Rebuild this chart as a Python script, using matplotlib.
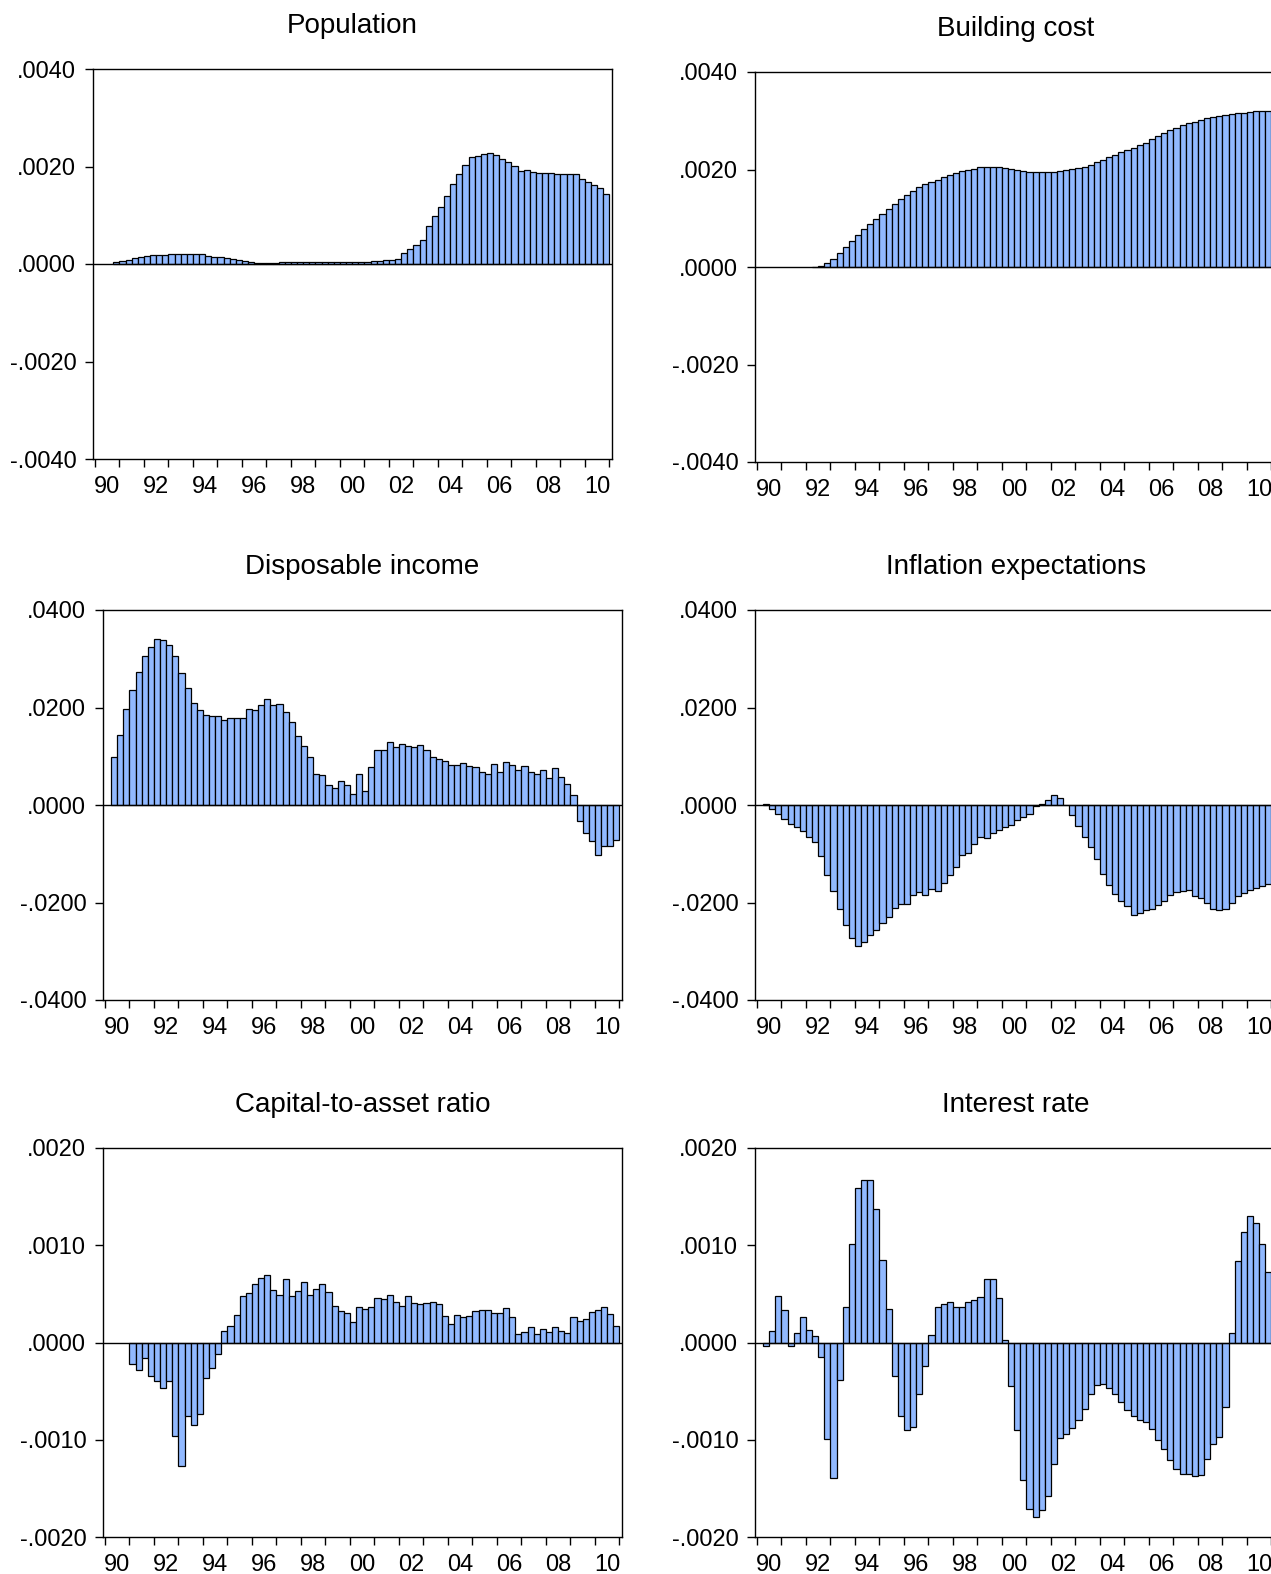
import numpy as np
import matplotlib.pyplot as plt
from matplotlib.ticker import FuncFormatter

plt.rcParams['font.family'] = ['Liberation Sans', 'DejaVu Sans']

# quarterly data, first observation given as offset (in quarters) from 1990Q1
population_start = 3   # 1990Q4
population = [0.000041, 0.000068, 0.000089, 0.000123, 0.000150, 0.000164, 0.000177, 0.000184,
              0.000184, 0.000198, 0.000198, 0.000198, 0.000198, 0.000198, 0.000198, 0.000164,
              0.000150, 0.000137, 0.000116, 0.000096, 0.000075, 0.000055, 0.000034, 0.000027,
              0.000020, 0.000020, 0.000027, 0.000034, 0.000041, 0.000048, 0.000048, 0.000048,
              0.000048, 0.000048, 0.000048, 0.000041, 0.000041, 0.000034, 0.000034, 0.000048,
              0.000048, 0.000048, 0.000055, 0.000068, 0.000075, 0.000082, 0.000096, 0.000225,
              0.000307, 0.000382, 0.000491, 0.000778, 0.000976, 0.001167, 0.001386, 0.001645,
              0.001843, 0.002034, 0.002191, 0.002212, 0.002253, 0.002273, 0.002246, 0.002164,
              0.002096, 0.002014, 0.001911, 0.001918, 0.001884, 0.001864, 0.001864, 0.001857,
              0.001843, 0.001843, 0.001843, 0.001843, 0.001734, 0.001679, 0.001625, 0.001550,
              0.001427]

building_start = 9   # 1992Q2
building = [0.00001, 0.00003, 0.00008, 0.00016, 0.00028, 0.00042, 0.00054, 0.00066, 0.00077,
            0.00088, 0.00099, 0.00108, 0.00119, 0.00129, 0.00139, 0.00148, 0.00156, 0.00164,
            0.00170, 0.00175, 0.00179, 0.00184, 0.00188, 0.00192, 0.00196, 0.00199, 0.00202,
            0.00205, 0.00206, 0.00206, 0.00206, 0.00204, 0.00201, 0.00199, 0.00196, 0.00195,
            0.00194, 0.00194, 0.00194, 0.00195, 0.00197, 0.00199, 0.00201, 0.00203, 0.00206,
            0.00210, 0.00215, 0.00220, 0.00225, 0.00230, 0.00236, 0.00240, 0.00245, 0.00250,
            0.00255, 0.00262, 0.00268, 0.00275, 0.00281, 0.00286, 0.00291, 0.00295, 0.00298,
            0.00301, 0.00305, 0.00308, 0.00310, 0.00312, 0.00314, 0.00315, 0.00316, 0.00318,
            0.00320, 0.00320, 0.00319]

income_start = 1   # 1990Q2
income = [0.0099, 0.0143, 0.0197, 0.0235, 0.0273, 0.0305, 0.0325, 0.0340, 0.0339, 0.0329,
          0.0305, 0.0270, 0.0241, 0.0210, 0.0194, 0.0185, 0.0182, 0.0183, 0.0175, 0.0179,
          0.0179, 0.0179, 0.0197, 0.0195, 0.0205, 0.0218, 0.0206, 0.0207, 0.0191, 0.0171,
          0.0142, 0.0121, 0.0099, 0.0064, 0.0062, 0.0042, 0.0035, 0.0049, 0.0041, 0.0023,
          0.0064, 0.0029, 0.0078, 0.0112, 0.0112, 0.0129, 0.0120, 0.0125, 0.0121, 0.0118,
          0.0123, 0.0112, 0.0099, 0.0095, 0.0091, 0.0083, 0.0083, 0.0087, 0.0079, 0.0077,
          0.0068, 0.0063, 0.0084, 0.0068, 0.0089, 0.0083, 0.0072, 0.0081, 0.0068, 0.0064,
          0.0071, 0.0055, 0.0075, 0.0058, 0.0043, 0.0021, -0.0033, -0.0058, -0.0074, -0.0103,
          -0.0085, -0.0085, -0.0072]

inflation_start = 1   # 1990Q2
inflation = [0.0003, -0.0008, -0.0018, -0.0029, -0.0039, -0.0046, -0.0054, -0.0065, -0.0075,
             -0.0105, -0.0143, -0.0176, -0.0214, -0.0247, -0.0273, -0.0290, -0.0281, -0.0266,
             -0.0256, -0.0242, -0.0229, -0.0212, -0.0204, -0.0203, -0.0185, -0.0179, -0.0184,
             -0.0173, -0.0176, -0.0160, -0.0143, -0.0128, -0.0103, -0.0098, -0.0079, -0.0066,
             -0.0068, -0.0057, -0.0051, -0.0045, -0.0040, -0.0031, -0.0024, -0.0018, -0.0002,
             0.0003, 0.0010, 0.0020, 0.0015, -0.0001, -0.0020, -0.0044, -0.0066, -0.0087,
             -0.0111, -0.0142, -0.0165, -0.0182, -0.0197, -0.0208, -0.0226, -0.0221, -0.0216,
             -0.0214, -0.0205, -0.0196, -0.0184, -0.0178, -0.0176, -0.0174, -0.0186, -0.0191,
             -0.0202, -0.0214, -0.0216, -0.0213, -0.0201, -0.0187, -0.0181, -0.0174, -0.0170,
             -0.0166, -0.0163]

capital_start = 4   # 1991Q1
capital = [-0.00022, -0.00028, -0.00016, -0.00034, -0.00040, -0.00047, -0.00040, -0.00096,
           -0.00127, -0.00076, -0.00085, -0.00074, -0.00036, -0.00026, -0.00012, 0.00012,
           0.00017, 0.00028, 0.00048, 0.00051, 0.00060, 0.00066, 0.00069, 0.00054, 0.00049,
           0.00065, 0.00048, 0.00053, 0.00062, 0.00049, 0.00055, 0.00060, 0.00052, 0.00038,
           0.00032, 0.00030, 0.00021, 0.00036, 0.00034, 0.00037, 0.00046, 0.00045, 0.00049,
           0.00042, 0.00038, 0.00048, 0.00041, 0.00040, 0.00041, 0.00042, 0.00040, 0.00027,
           0.00019, 0.00028, 0.00026, 0.00027, 0.00032, 0.00033, 0.00033, 0.00030, 0.00030,
           0.00035, 0.00026, 0.00009, 0.00011, 0.00016, 0.00009, 0.00014, 0.00011, 0.00016,
           0.00012, 0.00010, 0.00026, 0.00022, 0.00024, 0.00031, 0.00033, 0.00037, 0.00029,
           0.00017]

interest_start = 1   # 1990Q2
interest = [-0.00004, 0.00012, 0.00048, 0.00033, -0.00004, 0.00010, 0.00026, 0.00013, 0.00007,
            -0.00015, -0.00099, -0.00139, -0.00039, 0.00036, 0.00101, 0.00159, 0.00167, 0.00167,
            0.00137, 0.00085, 0.00034, -0.00034, -0.00076, -0.00090, -0.00087, -0.00053,
            -0.00024, 0.00008, 0.00036, 0.00040, 0.00042, 0.00037, 0.00036, 0.00042, 0.00044,
            0.00047, 0.00065, 0.00065, 0.00046, 0.00003, -0.00045, -0.00090, -0.00141, -0.00171,
            -0.00179, -0.00172, -0.00158, -0.00125, -0.00098, -0.00094, -0.00088, -0.00080,
            -0.00068, -0.00053, -0.00044, -0.00043, -0.00047, -0.00053, -0.00061, -0.00069,
            -0.00076, -0.00080, -0.00082, -0.00089, -0.00100, -0.00110, -0.00121, -0.00130,
            -0.00135, -0.00135, -0.00137, -0.00136, -0.00120, -0.00104, -0.00097, -0.00066,
            0.00010, 0.00084, 0.00114, 0.00130, 0.00123, 0.00101, 0.00072]

titles = ["Population", "Building cost", "Disposable income",
          "Inflation expectations", "Capital-to-asset ratio", "Interest rate"]
series = [(population_start, population), (building_start, building),
          (income_start, income), (inflation_start, inflation),
          (capital_start, capital), (interest_start, interest)]
limits = [0.004, 0.004, 0.04, 0.04, 0.002, 0.002]
steps = [0.002, 0.002, 0.02, 0.02, 0.001, 0.001]

year_labels = ["90", "92", "94", "96", "98", "00", "02", "04", "06", "08", "10"]

W, H = 1271, 1574
# axes boxes in pixels: left, top, width, bottom
boxes = [(93, 69, 519, 459), (755, 72, 522, 462),
         (103, 610, 519, 1000), (755, 610, 522, 1000),
         (103, 1148, 519, 1537), (755, 1148, 522, 1537)]

BAR_COLOR = '#91B9FF'
px_per_year = 24.5


def fmt(v, pos):
    return f"{v:.4f}".replace("0.", ".", 1)


fig = plt.figure(figsize=(W / 100, H / 100), dpi=100)

for k in range(6):
    left, top, width, bottom = boxes[k]
    ax = fig.add_axes([left / W, 1 - bottom / H, width / W, (bottom - top) / H])
    start, vals = series[k]
    x = 1990 + (start + np.arange(len(vals))) / 4 + 0.125
    ax.bar(x, vals, width=0.25, color=BAR_COLOR, edgecolor='black', linewidth=0.9, zorder=2)
    ax.axhline(0, color='black', linewidth=1.0, zorder=3)

    x0 = 1989.92
    ax.set_xlim(x0, x0 + width / px_per_year)
    lim = limits[k]
    ax.set_ylim(-lim, lim)
    ax.set_yticks(np.arange(-lim, lim + steps[k] / 2, steps[k]))
    ax.yaxis.set_major_formatter(FuncFormatter(fmt))

    ax.set_xticks(np.arange(1990, 2012))
    ax.set_xticklabels([])
    ax.set_xticks(np.arange(1990.5, 2011, 2), minor=True)
    ax.set_xticklabels(year_labels, minor=True)
    ax.tick_params(axis='x', which='major', direction='out', length=6, width=1.0)
    ax.tick_params(axis='x', which='minor', length=0, pad=12, labelsize=17)
    ax.tick_params(axis='y', direction='out', length=6, width=1.0, pad=6, labelsize=17)

    for s in ax.spines.values():
        s.set_linewidth(1.0)

    ax.set_title(titles[k], fontsize=20, pad=26)

fig.savefig('out.png', dpi=100)
